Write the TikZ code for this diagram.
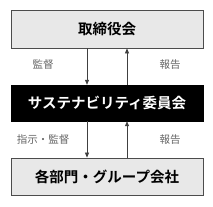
\documentclass[tikz,border=0pt]{standalone}
\usepackage{fontspec}
\newfontfamily\cjk{Noto Sans CJK JP}
\newfontfamily\cjkb{Noto Sans CJK JP Bold}
\usetikzlibrary{arrows.meta}
\begin{document}
\begin{tikzpicture}[x=1pt,y=-1pt,
  graybox/.style={draw=black!70,fill=black!9,line width=0.8pt,minimum width=192pt,inner sep=0pt,font=\fontsize{14.5}{16}\cjkb},
  blackbox/.style={draw=black,fill=black,text=white,minimum width=192pt,minimum height=36pt,inner sep=0pt,font=\fontsize{14.5}{16}\cjkb},
  lbl/.style={font=\fontsize{10.5}{12}\cjk,text=black!60},
  arr/.style={draw=black!75,line width=0.7pt,-{Triangle[length=5pt,width=4pt]}}]
\useasboundingbox (0,0) rectangle (213,206);
\node[graybox,minimum height=38pt] (top) at (107,29) {取締役会};
\node[blackbox] (mid) at (107,103) {サステナビリティ委員会};
\node[graybox,minimum height=37pt] (bot) at (107,176.5) {各部門・グループ会社};
\draw[arr] (top.south -| 87,0) -- (mid.north -| 87,0);
\draw[arr] (mid.north -| 127,0) -- (top.south -| 127,0);
\draw[arr] (mid.south -| 87,0) -- (bot.north -| 87,0);
\draw[arr] (bot.north -| 127,0) -- (mid.south -| 127,0);
\node[lbl] (l1) at (43,65) {監督};
\node[lbl] (l2) at (170,65) {報告};
\node[lbl] (l3) at (43,140) {指示・監督};
\node[lbl] (l4) at (170,140) {報告};
\end{tikzpicture}
\end{document}
